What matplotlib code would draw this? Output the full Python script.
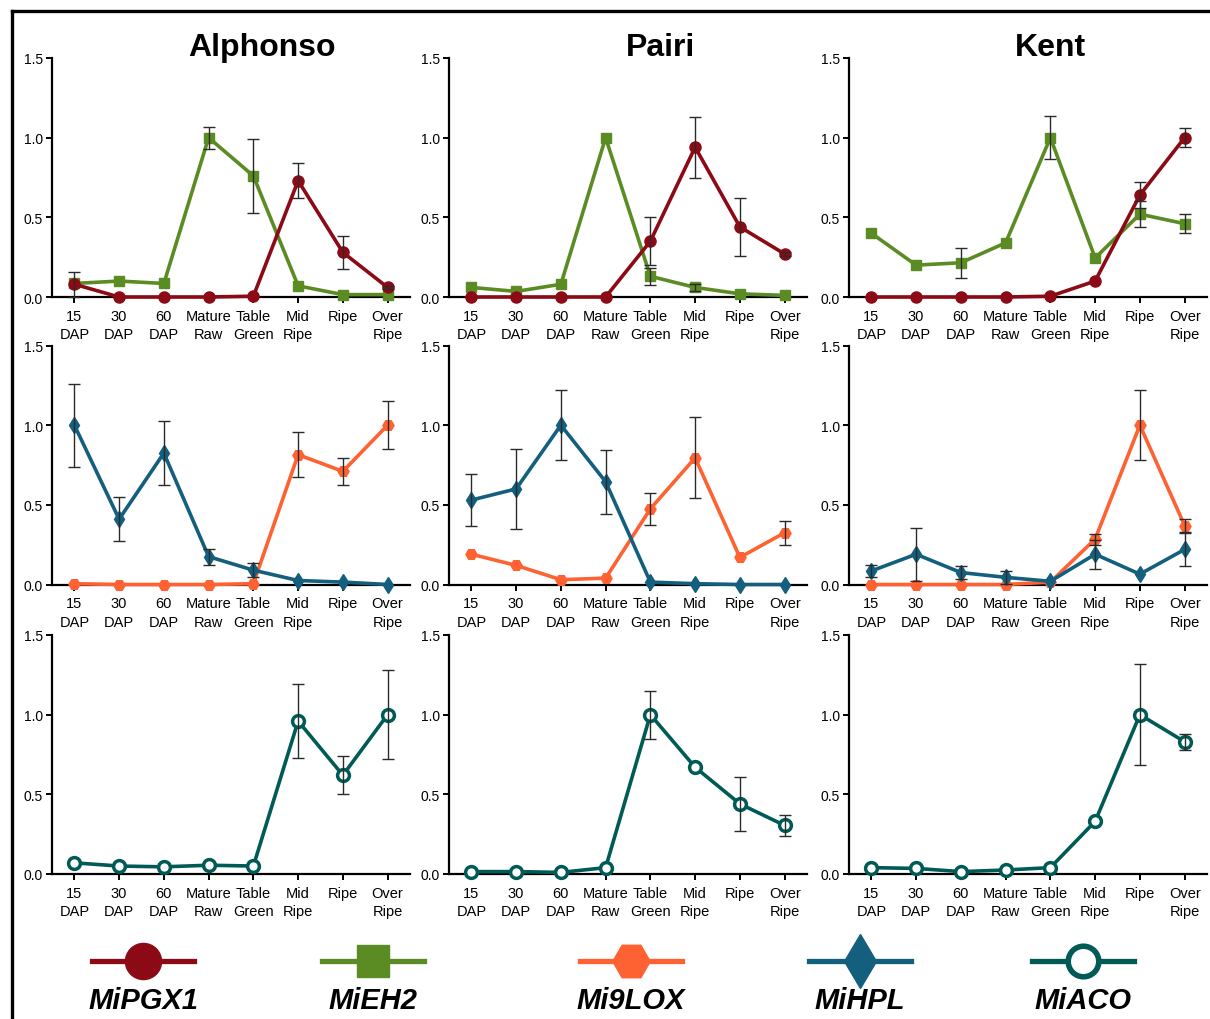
import numpy as np
import matplotlib
matplotlib.use("Agg")
import matplotlib.pyplot as plt
from matplotlib.lines import Line2D

plt.rcParams['font.family'] = ['Liberation Sans', 'DejaVu Sans']

stages = ['15\nDAP', '30\nDAP', '60\nDAP', 'Mature\nRaw', 'Table\nGreen', 'Mid\nRipe', 'Ripe', 'Over\nRipe']
cultivars = ['Alphonso', 'Pairi', 'Kent']
genes = ['MiPGX1', 'MiEH2', 'Mi9LOX', 'MiHPL', 'MiACO']

# relative expression (mean and error)
pgx1_alphonso = [0.08, 0.0, 0.0, 0.0, 0.005, 0.73, 0.28, 0.06]
pgx1_alphonso_err = [0.08, 0, 0, 0, 0, 0.11, 0.105, 0.01]
pgx1_pairi = [0.0, 0.0, 0.0, 0.0, 0.35, 0.94, 0.44, 0.27]
pgx1_pairi_err = [0, 0, 0, 0, 0.15, 0.19, 0.18, 0.01]
pgx1_kent = [0.0, 0.0, 0.0, 0.0, 0.005, 0.10, 0.64, 1.0]
pgx1_kent_err = [0, 0, 0, 0, 0, 0, 0.08, 0.06]

eh2_alphonso = [0.085, 0.10, 0.085, 1.0, 0.76, 0.07, 0.015, 0.015]
eh2_alphonso_err = [0, 0, 0, 0.07, 0.23, 0, 0, 0]
eh2_pairi = [0.06, 0.035, 0.08, 1.0, 0.13, 0.06, 0.02, 0.01]
eh2_pairi_err = [0, 0, 0, 0, 0.055, 0.02, 0, 0]
eh2_kent = [0.40, 0.20, 0.215, 0.34, 1.0, 0.245, 0.52, 0.46]
eh2_kent_err = [0, 0, 0.095, 0, 0.135, 0, 0.08, 0.06]

hpl_alphonso = [1.0, 0.41, 0.825, 0.175, 0.09, 0.025, 0.015, 0.0]
hpl_alphonso_err = [0.26, 0.14, 0.2, 0.05, 0.045, 0, 0, 0]
hpl_pairi = [0.53, 0.60, 1.0, 0.645, 0.015, 0.005, 0.0, 0.0]
hpl_pairi_err = [0.165, 0.25, 0.22, 0.2, 0, 0, 0, 0]
hpl_kent = [0.085, 0.19, 0.075, 0.045, 0.02, 0.19, 0.065, 0.22]
hpl_kent_err = [0.035, 0.165, 0.04, 0.04, 0, 0.09, 0, 0.105]

lox9_alphonso = [0.005, 0.0, 0.0, 0.0, 0.005, 0.815, 0.71, 1.0]
lox9_alphonso_err = [0, 0, 0, 0, 0, 0.14, 0.085, 0.15]
lox9_pairi = [0.19, 0.12, 0.03, 0.04, 0.475, 0.795, 0.17, 0.325]
lox9_pairi_err = [0, 0, 0, 0, 0.1, 0.255, 0, 0.075]
lox9_kent = [0.0, 0.0, 0.0, 0.0, 0.015, 0.285, 1.0, 0.37]
lox9_kent_err = [0, 0, 0, 0, 0, 0.035, 0.22, 0.04]

aco_alphonso = [0.07, 0.05, 0.045, 0.055, 0.05, 0.96, 0.62, 1.0]
aco_alphonso_err = [0, 0, 0, 0, 0, 0.23, 0.12, 0.28]
aco_pairi = [0.015, 0.015, 0.01, 0.04, 1.0, 0.67, 0.44, 0.305]
aco_pairi_err = [0, 0, 0, 0, 0.15, 0, 0.17, 0.065]
aco_kent = [0.04, 0.035, 0.015, 0.025, 0.04, 0.33, 1.0, 0.83]
aco_kent_err = [0, 0, 0, 0, 0, 0, 0.315, 0.05]

red = '#8C0A16'
green = '#5B8C24'
orange = '#FF6232'
blue = '#145F7E'
teal = '#005A55'

styles = {
    'MiPGX1': dict(color=red, marker='o', ms=8, mfc=red, mec=red, mew=1),
    'MiEH2': dict(color=green, marker='s', ms=7.5, mfc=green, mec=green, mew=1),
    'Mi9LOX': dict(color=orange, marker='H', ms=8, mfc=orange, mec=orange, mew=1),
    'MiHPL': dict(color=blue, marker='d', ms=8, mfc=blue, mec=blue, mew=1),
    'MiACO': dict(color=teal, marker='o', ms=8.5, mfc='white', mec=teal, mew=2.5),
}

rows = [
    [('MiEH2', [eh2_alphonso, eh2_pairi, eh2_kent], [eh2_alphonso_err, eh2_pairi_err, eh2_kent_err]),
     ('MiPGX1', [pgx1_alphonso, pgx1_pairi, pgx1_kent], [pgx1_alphonso_err, pgx1_pairi_err, pgx1_kent_err])],
    [('Mi9LOX', [lox9_alphonso, lox9_pairi, lox9_kent], [lox9_alphonso_err, lox9_pairi_err, lox9_kent_err]),
     ('MiHPL', [hpl_alphonso, hpl_pairi, hpl_kent], [hpl_alphonso_err, hpl_pairi_err, hpl_kent_err])],
    [('MiACO', [aco_alphonso, aco_pairi, aco_kent], [aco_alphonso_err, aco_pairi_err, aco_kent_err])],
]

W, H = 1210, 1020
fig = plt.figure(figsize=(W / 100, H / 100), dpi=100)

col_left = [52, 449, 849]
row_zero = [298, 585.5, 875]
ax_w = 358
ax_h = 239

x = np.arange(len(stages))
for r, series in enumerate(rows):
    for c in range(3):
        ax = fig.add_axes([col_left[c] / W, 1 - row_zero[r] / H, ax_w / W, ax_h / H])
        for gene, vals, errs in series:
            st = styles[gene]
            ax.plot(x, vals[c], color=st['color'], lw=2.6, marker=st['marker'], ms=st['ms'],
                    mfc=st['mfc'], mec=st['mec'], mew=st['mew'], clip_on=False, zorder=3)
            e = np.array(errs[c])
            m = e > 0
            ax.errorbar(x[m], np.array(vals[c])[m], yerr=e[m], fmt='none', ecolor='#2a2a2a',
                        elinewidth=1.0, capsize=4, capthick=1.0, clip_on=False, zorder=4)
        ax.set_xlim(-0.5, 7.5)
        ax.set_ylim(0, 1.5)
        ax.set_yticks([0, 0.5, 1.0, 1.5])
        ax.set_yticklabels(['0.0', '0.5', '1.0', '1.5'], fontsize=10)
        ax.set_xticks(x)
        ax.set_xticklabels(stages, fontsize=10.5, linespacing=1.4)
        ax.spines['top'].set_visible(False)
        ax.spines['right'].set_visible(False)
        ax.spines['left'].set_linewidth(1.6)
        ax.spines['bottom'].set_linewidth(1.6)
        ax.tick_params(axis='both', direction='out', length=4.5, width=1.4, pad=2, colors='black')
        ax.tick_params(axis='x', pad=4)
        ax.patch.set_alpha(0)

# cultivar titles
for name, cx in zip(cultivars, [262, 660, 1050]):
    fig.text(cx / W, 1 - 48 / H, name, ha='center', va='center', fontsize=23, fontweight='bold')

# frame lines (top and left)
fig.add_artist(Line2D([12 / W, 12 / W], [0, 1 - 12 / H], color='black', lw=2.4, transform=fig.transFigure))
fig.add_artist(Line2D([12 / W, 1], [1 - 12 / H, 1 - 12 / H], color='black', lw=2.4, transform=fig.transFigure))

# legend row at bottom
leg_x = [143, 373, 631, 860, 1083]
leg_ms = [26, 23, 27, 28, 22]
for gene, lx, lms in zip(genes, leg_x, leg_ms):
    st = styles[gene]
    mew = 4 if gene == 'MiACO' else 1
    fig.add_artist(Line2D([(lx - 51) / W, (lx + 51) / W], [1 - 962 / H, 1 - 962 / H],
                          color=st['color'], lw=3.8, transform=fig.transFigure))
    fig.add_artist(Line2D([lx / W], [1 - 962 / H], color=st['color'], marker=st['marker'], ms=lms,
                          mfc=st['mfc'], mec=st['mec'], mew=mew, transform=fig.transFigure))
    fig.text(lx / W, 1 - 1001 / H, gene, ha='center', va='center', fontsize=21,
             fontweight='bold', fontstyle='italic')

fig.savefig('out.png', dpi=100)
